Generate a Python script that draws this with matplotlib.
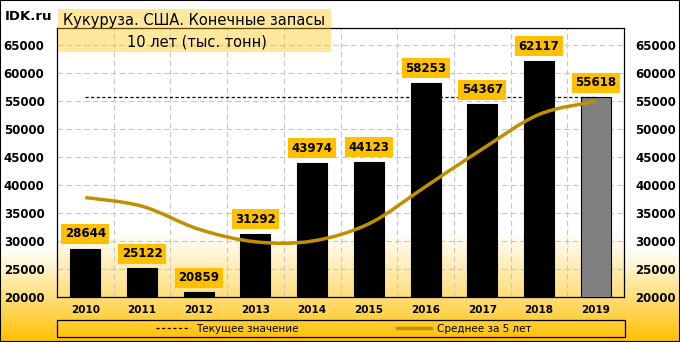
import matplotlib.pyplot as plt
import numpy as np
from matplotlib.path import Path
from matplotlib.patches import PathPatch, Rectangle
from matplotlib.colors import LinearSegmentedColormap
from matplotlib.lines import Line2D

years = ['2010', '2011', '2012', '2013', '2014', '2015', '2016', '2017', '2018', '2019']
stocks = [28644, 25122, 20859, 31292, 43974, 44123, 58253, 54367, 62117, 55618]
avg5 = [37750, 36200, 32100, 29850, 29980, 33070, 39700, 46400, 52570, 54900]
current = [55618] * 10
yticks = [20000, 25000, 30000, 35000, 40000, 45000, 50000, 55000, 60000, 65000]

fig = plt.figure(figsize=(6.8, 3.42), dpi=100)

# figure background gradient (white -> orange-yellow at bottom)
bg = fig.add_axes([0, 0, 1, 1], zorder=-10)
cm_fig = LinearSegmentedColormap.from_list('f', [(0, '#FFC000'), (0.27, '#FFFFFF'), (1, '#FFFFFF')])
bg.imshow(np.linspace(1, 0, 256).reshape(-1, 1), cmap=cm_fig, aspect='auto', extent=[0, 1, 0, 1], vmin=0, vmax=1)
bg.set_axis_off()

pos = [57/680, 1-297/342, 567/680, 269/342]
# plot area gradient
pbg = fig.add_axes(pos, zorder=-5)
cm_ax = LinearSegmentedColormap.from_list('a', [(0, '#FFDF7A'), (0.24, '#FFFFFF'), (1, '#FFFFFF')])
pbg.imshow(np.linspace(1, 0, 256).reshape(-1, 1), cmap=cm_ax, aspect='auto', extent=[0, 1, 0, 1], vmin=0, vmax=1)
pbg.set_axis_off()

ax = fig.add_axes(pos)
ax.patch.set_visible(False)
x = np.arange(len(years))
colors = ['black'] * 9 + ['#808080']
ax.bar(x, stocks, width=0.53, color=colors, edgecolor='black', linewidth=0.8, zorder=3)
ax.plot(x, current, color='black', linestyle=(0, (2.5, 2)), linewidth=0.9, zorder=4)

# smoothed 5-year average line (Bezier through the points)
pts = np.column_stack([x, avg5]).astype(float)
verts = [tuple(pts[0])]
codes = [Path.MOVETO]
for i in range(len(pts) - 1):
    p0 = pts[i - 1] if i > 0 else pts[i]
    p1, p2 = pts[i], pts[i + 1]
    p3 = pts[i + 2] if i + 2 < len(pts) else pts[i + 1]
    c1 = p1 + (p2 - p0) / 6
    c2 = p2 - (p3 - p1) / 6
    verts += [tuple(c1), tuple(c2), tuple(p2)]
    codes += [Path.CURVE4] * 3
ax.add_patch(PathPatch(Path(verts, codes), facecolor='none', edgecolor='#BF9000', linewidth=2.5, zorder=5))

for xi, v in zip(x, stocks):
    ax.annotate(str(v), (xi, v), xytext=(0, 10.5), textcoords='offset points', ha='center', va='center',
                fontsize=8.5, fontweight='bold', zorder=6,
                bbox=dict(boxstyle='square,pad=0.3', fc='#FFC000', ec='none'))

ax.set_xlim(-0.5, 9.5)
ax.set_ylim(20000, 68000)
ax.set_yticks(yticks)
ax.set_xticks(x)
ax.set_xticklabels(years, fontsize=7.5, fontweight='bold')
ax.set_xticks(np.arange(0.5, 9.5, 1), minor=True)
ax.grid(axis='y', color='#C8C8C8', linestyle=(0, (5, 3)), linewidth=0.8, zorder=1)
ax.grid(axis='x', which='minor', color='#C8C8C8', linestyle=(0, (5, 3)), linewidth=0.8, zorder=1)
ax.tick_params(axis='y', length=0, pad=9, labelsize=8.5)
ax.tick_params(axis='x', which='both', length=0, pad=6)
for lab in ax.get_yticklabels():
    lab.set_fontweight('bold')
for s in ax.spines.values():
    s.set_color('black')
    s.set_linewidth(0.9)

ax2 = ax.twinx()
ax2.set_ylim(ax.get_ylim())
ax2.set_yticks(yticks)
ax2.tick_params(axis='y', length=0, pad=8, labelsize=8.5)
for lab in ax2.get_yticklabels():
    lab.set_fontweight('bold')
for s in ax2.spines.values():
    s.set_visible(False)

# title box
fig.patches.append(Rectangle((58/680, 1-52/342), 273/680, 43/342, transform=fig.transFigure,
                             facecolor='#FFC000', alpha=0.38, edgecolor='none', zorder=8))
fig.text(194/680, 1-21/342, 'Кукуруза. США. Конечные запасы', ha='center', va='center', fontsize=10.5, zorder=9)
fig.text(197/680, 1-42/342, '10 лет (тыс. тонн)', ha='center', va='center', fontsize=10.5, zorder=9)
fig.text(5/680, 1-17/342, 'IDK.ru', ha='left', va='center', fontsize=9.5, fontweight='bold')

# legend
fig.patches.append(Rectangle((57/680, 1-337/342), 568/680, 17/342, transform=fig.transFigure,
                             facecolor='none', edgecolor='black', linewidth=0.9))
handles = [Line2D([], [], color='black', linestyle=(0, (2.5, 2)), linewidth=0.9),
           Line2D([], [], color='#BF9000', linewidth=2.5)]
fig.legend(handles, ['Текущее значение', 'Среднее за 5 лет'], loc='center', bbox_to_anchor=(344/680, 1-328.5/342),
           ncol=2, frameon=False, fontsize=7.5, handlelength=3.2, handletextpad=0.6, columnspacing=9.5)

# outer border
fig.patches.append(Rectangle((0, 0), 1, 1, transform=fig.transFigure, facecolor='none', edgecolor='black', linewidth=1.5))

fig.savefig('out.png', dpi=100)
